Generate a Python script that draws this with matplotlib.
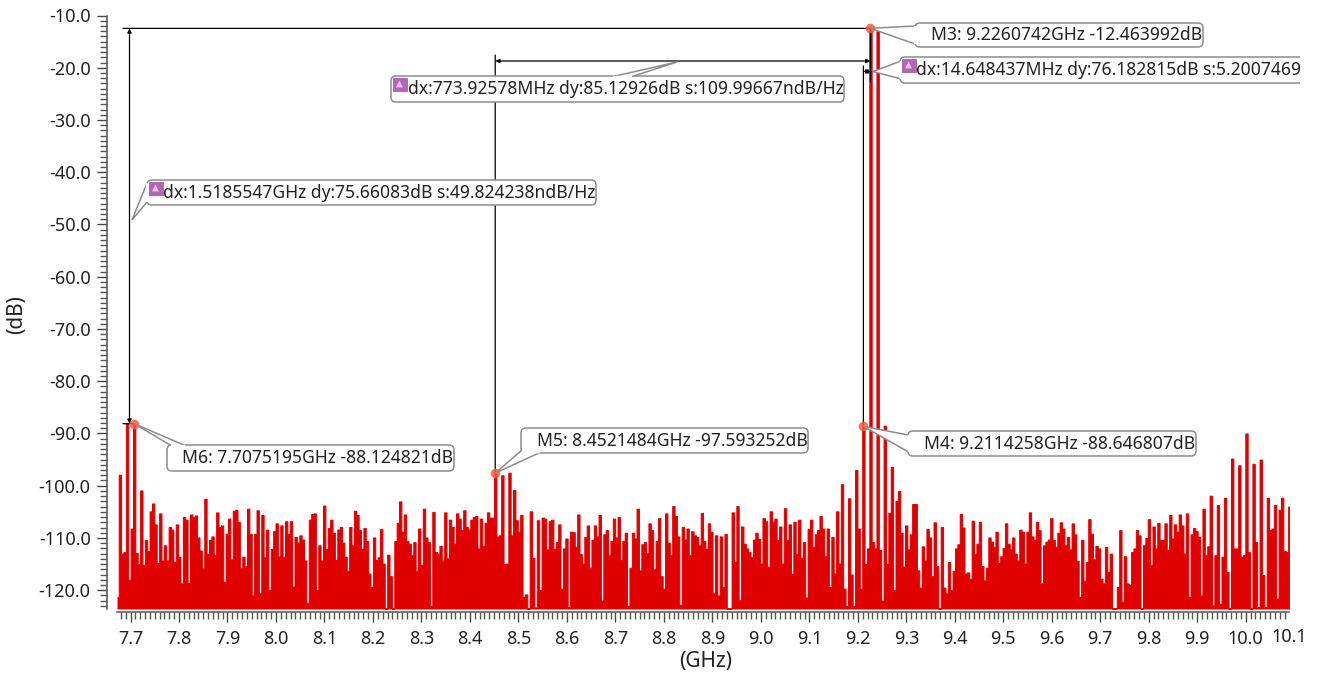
import numpy as np
import matplotlib
matplotlib.use("Agg")
import matplotlib.pyplot as plt
from matplotlib.patches import FancyBboxPatch, Polygon, Rectangle

plt.rcParams['font.family'] = ['Noto Sans', 'DejaVu Sans']

# markers (GHz, dB)
m3 = (9.2260742, -12.463992)
m4 = (9.2114258, -88.646807)
m5 = (8.4521484, -97.593252)
m6 = (7.7075195, -88.124821)

# spectrum levels, split at the markers
lead = [-121.3, -97.9, -113, -112.7, -88, -118, -108.2]
m6_to_m5 = [
    -112.9, -115, -100.9, -115.2, -110.4, -112.5, -104.9, -103.4, -107.4, -114.8, -105.3, -114.3, -111.4, -114.3,
    -107.9, -108.4, -114.6, -107.4, -113.6, -118.7, -106, -106.5, -118.6, -105.5, -106, -105.7, -109.9, -112.4,
    -115.8, -102.5, -113.1, -110.4, -109.7, -113.3, -105.1, -107.9, -107.6, -118.4, -109.2, -106.3, -114.1, -104.8,
    -104.6, -106.9, -115.8, -113.6, -115.4, -104.4, -109.2, -121, -109.2, -104.7, -120.6, -105.6, -113.7, -108.4,
    -120, -112.1, -108.7, -107.2, -113.5, -107.6, -113.6, -106.8, -109.2, -106.8, -119.3, -109.8, -110.9, -109.5,
    -110.3, -114.3, -122.5, -106.5, -105.4, -105.3, -120, -111.4, -114.3, -103.8, -112.1, -108.1, -106.5, -109,
    -114.2, -108.4, -107.9, -110.9, -113.6, -116.3, -107.9, -111.4, -104.8, -105.6, -108.5, -112.1, -108.1, -110.6,
    -116.8, -119.4, -109.9, -114.2, -113.7, -108.3, -114.9, -123.5, -113.2, -117.3, -123.5, -110.6, -107.1, -103,
    -108.8, -105.5, -110.6, -111.1, -113.3, -110.8, -116.3, -108.2, -115.2, -104.4, -109.9, -110.8, -123, -105,
    -112.7, -113, -111.5, -114.3, -105.1, -113.9, -106.5, -107.9, -111.1, -105.3, -106.3, -108.5, -104.7, -107.9,
    -108.4, -106.5, -106, -105.8, -112, -106.3, -111.5, -107.1, -105.1, -106.1, -106.1,
]
m5_to_m4 = [
    -109.7, -109.5, -98, -115, -114.9, -97.5, -109.5, -100.8, -106.6, -108.8, -105.6, -121.3, -120.8, -123.5,
    -104.9, -113.8, -123.3, -106.6, -120, -106.1, -106.3, -112.2, -106.8, -106.5, -112.1, -110.8, -107.4, -119.7,
    -112, -110.1, -123.2, -108.8, -108.9, -111.7, -105.5, -113.1, -114.9, -109.8, -107.6, -115.7, -110.4, -107.6,
    -109.7, -105.6, -122, -109.3, -108.5, -113.3, -110.6, -106.3, -109.9, -106, -114.2, -110.6, -109, -123, -115.7,
    -109, -110.1, -104.4, -116.2, -111.2, -110.8, -112.9, -107.2, -108.5, -116, -110.6, -106.2, -117.3, -119.7,
    -105.3, -110.9, -113.3, -103.9, -105.8, -109.7, -122.8, -107.9, -110.3, -108.2, -113.3, -108.7, -109.5, -109.8,
    -111.4, -105.2, -110.6, -112.1, -107.2, -108.8, -120.6, -109.5, -121, -109.7, -119.4, -109.2, -123.5, -123.5,
    -105.1, -114.6, -103.9, -121.9, -107.8, -111.1, -112, -112.7, -113.7, -110.3, -109, -110.2, -114.9, -106.2,
    -106.8, -115.5, -104.9, -106.9, -106.3, -110.4, -107.8, -114.9, -104.3, -110.4, -107.4, -116.9, -106.9, -113.1,
    -106.5, -113.8, -110.8, -121.4, -108.3, -106.5, -111.7, -109.3, -108.5, -105.8, -108.2, -113.5, -108.2, -119.4,
    -109.8, -116.8, -104.9, -114.9, -99.7, -119.7, -123, -102.4, -117, -123, -97, -108.2, -119.7,
]
m4_to_m3 = [-115, -112]
tail = [
    -110.8, -112, -13, -112.3, -122, -88.5, -115, -105.2, -96.4, -120, -102.9, -101, -109, -115.5, -107.6, -112.2,
    -109.3, -103.5, -103.5, -116.2, -119.5, -111.6, -114.3, -108.3, -109.9, -117.3, -107, -115.4, -123.5, -107.9,
    -119.5, -120.6, -114.6, -120, -116.3, -112, -111.2, -105.4, -108, -116.8, -116.6, -117.8, -106.7, -113.1, -111.1,
    -106.9, -115.4, -118.1, -115.7, -109.9, -110.7, -111.7, -108.8, -114.8, -113.5, -111.9, -107.2, -111.1, -112.2,
    -109.9, -113, -114.3, -108.4, -108.8, -114.9, -108.8, -105.1, -109.7, -110.4, -106.9, -108.5, -118.7, -111.4,
    -110.7, -110.3, -106.2, -110.4, -111.7, -109, -107, -108.2, -111.4, -109.8, -112.2, -107.2, -109.3, -114.4,
    -121.3, -110.4, -118.2, -114.6, -106.4, -109.2, -114.1, -111.5, -112, -117.8, -118.7, -111.7, -116.5, -113,
    -123.5, -123.5, -119.4, -108.5, -122.2, -113.5, -118.7, -119, -112.7, -112, -108.5, -109.5, -123.5, -111.4, -110,
    -106.4, -115.2, -107.8, -112, -107.1, -110.4, -110.4, -107.2, -112.3, -105.6, -110.1, -107.4, -108.8, -105.5,
    -107.6, -113, -105.3, -121.3, -109.3, -108.1, -108.7, -109.8, -121, -104.4, -113.3, -111.6, -101.9, -122.9,
    -113.3, -103.7, -122.6, -113.6, -102.3, -116.5, -123.5, -94.8, -112, -112, -96.1, -113.6, -113.3, -90, -112.7,
    -123.5, -95.8, -110.8, -123.2, -95, -117.1, -123.2, -102.3, -108.5, -108.2, -103.7, -121.6, -104.6, -102.3,
    -112.5, -112.7, -104,
]

freq_start = 7.6732
freq_stop = 10.0898
floor_db = -123.5

x_ticks = [round(7.7 + 0.1 * i, 1) for i in range(24)]
y_ticks = [-10 * i for i in range(1, 13)]

# frequency grid, pinned to the markers so the peaks land under them
freq = np.concatenate([
    np.linspace(freq_start, m6[0], len(lead) + 1)[:-1], [m6[0]],
    np.linspace(m6[0], m5[0], len(m6_to_m5) + 2)[1:-1], [m5[0]],
    np.linspace(m5[0], m4[0], len(m5_to_m4) + 2)[1:-1], [m4[0]],
    np.linspace(m4[0], m3[0], len(m4_to_m3) + 2)[1:-1], [m3[0]],
    np.linspace(m3[0], freq_stop, len(tail) + 1)[1:],
])
level = np.array(lead + [m6[1]] + m6_to_m5 + [m5[1]] + m5_to_m4 + [m4[1]] + m4_to_m3 + [m3[1]] + tail)

W, H = 1325, 674
fig = plt.figure(figsize=(W / 100, H / 100), dpi=100)
ax = fig.add_axes([116.7 / W, 1 - 608.5 / H, (1289.3 - 116.7) / W, (608.5 - 15.5) / H])
ax.fill_between(freq, level, floor_db, step='mid', color='#e00000', lw=0.7, clip_on=True)

for s in ['top', 'right']:
    ax.spines[s].set_visible(False)
ax.spines['left'].set_position(('outward', 7))
ax.spines['bottom'].set_position(('outward', 2.5))
for s in ['left', 'bottom']:
    ax.spines[s].set_linewidth(1.1)
    ax.spines[s].set_color('#555555')

ax.set_xticks(x_ticks)
ax.set_xticklabels([f'{t:.1f}' for t in x_ticks])
ax.set_yticks(y_ticks)
ax.set_yticklabels([f'{t:.1f}' for t in y_ticks])
ax.set_xticks([i / 100 for i in range(768, 1009)], minor=True)
ax.set_yticks(list(range(-123, -10)), minor=True)
ax.set_xlim(7.6715, 10.0898)
ax.set_ylim(floor_db, -10)
ax.tick_params(which='major', length=7.2, width=1, color='#444444', labelcolor='#222222', labelsize=13)
ax.tick_params(axis='x', which='major', pad=6)
ax.tick_params(axis='y', which='major', pad=4.5)
ax.tick_params(which='minor', length=2.4, width=1, color='#555555')
# the halfway ticks are longer
for t in ax.xaxis.get_minor_ticks():
    if round(t.get_loc() * 100) % 5 == 0:
        t.tick1line.set_markersize(5)
for t in ax.yaxis.get_minor_ticks():
    if round(t.get_loc()) % 5 == 0:
        t.tick1line.set_markersize(5)

# 10.1 is past the end of the sweep, the label sits at the axis end with no tick
fig.text(1289 / W, 1 - 637 / H, '10.1', ha='center', va='center', fontsize=13, color='#222222')
fig.text(706 / W, 1 - 662 / H, '(GHz)', ha='center', va='center', fontsize=15, color='#222222')
fig.text(17 / W, 1 - 315 / H, '(dB)', ha='center', va='center', rotation=90, fontsize=15, color='#222222')

# overlay in pixel coordinates for the callouts and delta lines
ov = fig.add_axes([0, 0, 1, 1], zorder=5)
ov.set_xlim(0, W)
ov.set_ylim(H, 0)
ov.axis('off')


def to_px(point):
    x, y = ax.transData.transform(point)
    return x, H - y


def delta_line(p0, p1, arrows=False):
    style = '<|-|>' if arrows else '-'
    ov.annotate('', xy=p1, xytext=p0, zorder=3,
                arrowprops=dict(arrowstyle=style, color='black', lw=0.9, shrinkA=0, shrinkB=0, mutation_scale=6))


def callout(text, box, wedge, text_x, clip_right=None, icon=False):
    x0, y0, x1, y1 = box
    patch = FancyBboxPatch((x0 + 4, y0 + 4), x1 - x0 - 8, y1 - y0 - 8, boxstyle='round,pad=4,rounding_size=5',
                           fc='white', ec='#8c8c8c', lw=1.1, zorder=4)
    ov.add_patch(patch)
    shape = Polygon(wedge, closed=False, fc='white', ec='#8c8c8c', lw=1.1, zorder=5)
    ov.add_patch(shape)
    # hide the box edge under the wedge mouth
    ov.plot([wedge[0][0], wedge[2][0]], [wedge[0][1], wedge[2][1]], color='white', lw=1.6, zorder=5,
            solid_capstyle='butt')
    if clip_right:
        clip = Rectangle((x0 - 2, y0 - 2), clip_right - x0 + 2, y1 - y0 + 4, transform=ov.transData)
        patch.set_clip_path(clip)
    if icon:
        ix, iy = x0 + 1.5, y0 + 1.5
        ov.add_patch(Rectangle((ix, iy), 14, 13, fc='#b565b5', ec='#9a4f9a', lw=0.5, zorder=6))
        ov.add_patch(Polygon([(ix + 3.5, iy + 10), (ix + 7, iy + 3), (ix + 10.5, iy + 10)],
                             fc='#e3c3e3', ec='none', zorder=7))
    ov.text(text_x, (y0 + y1) / 2 + 0.3, text, ha='left', va='center', fontsize=12.6, color='#222222', zorder=8)


p3, p4, p5, p6 = to_px(m3), to_px(m4), to_px(m5), to_px(m6)

# delta lines
delta_line((123, p3[1]), p3)
delta_line((123, p6[1]), p6)
delta_line((129.5, p3[1]), (129.5, p6[1]), arrows=True)
delta_line((p5[0], 55), p5)
delta_line((p3[0], 61), (p5[0], 61), arrows=True)
delta_line(p3, (p3[0], 82))
delta_line((p4[0], 66), p4)
delta_line((p4[0], 71.5), (p3[0], 71.5), arrows=True)

# markers
for p in (p3, p4, p5, p6):
    ov.scatter([p[0]], [p[1]], s=48, color='#ff5a3c', alpha=0.85, lw=0, zorder=3.5)

callout('M3: 9.2260742GHz -12.463992dB', (915, 23, 1203, 47), [(915, 26), p3, (915, 44)], 931)
callout('dx:14.648437MHz dy:76.182815dB s:5.2007469', (900, 57, 1340, 83), [(901, 61), (873, 71.5), (901, 79)],
        916, clip_right=1300, icon=True)
callout('dx:773.92578MHz dy:85.12926dB s:109.99667ndB/Hz', (391, 76, 844, 102), [(613, 76.5), (677, 62), (632, 76.5)],
        408, icon=True)
callout('dx:1.5185547GHz dy:75.66083dB s:49.824238ndB/Hz', (147, 180, 596, 205), [(147, 183), (132, 220), (147, 202)],
        163, icon=True)
callout('M6: 7.7075195GHz -88.124821dB', (167, 445, 454, 471), [(171, 445.5), p6, (185, 445.5)], 182)
callout('M5: 8.4521484GHz -97.593252dB', (521, 428, 808, 453), [(522, 450), p5, (540, 452.5)], 537)
callout('M4: 9.2114258GHz -88.646807dB', (908, 431, 1196, 456), [(908.5, 435), p4, (908.5, 452)], 924)

fig.savefig('out.png', dpi=100)
